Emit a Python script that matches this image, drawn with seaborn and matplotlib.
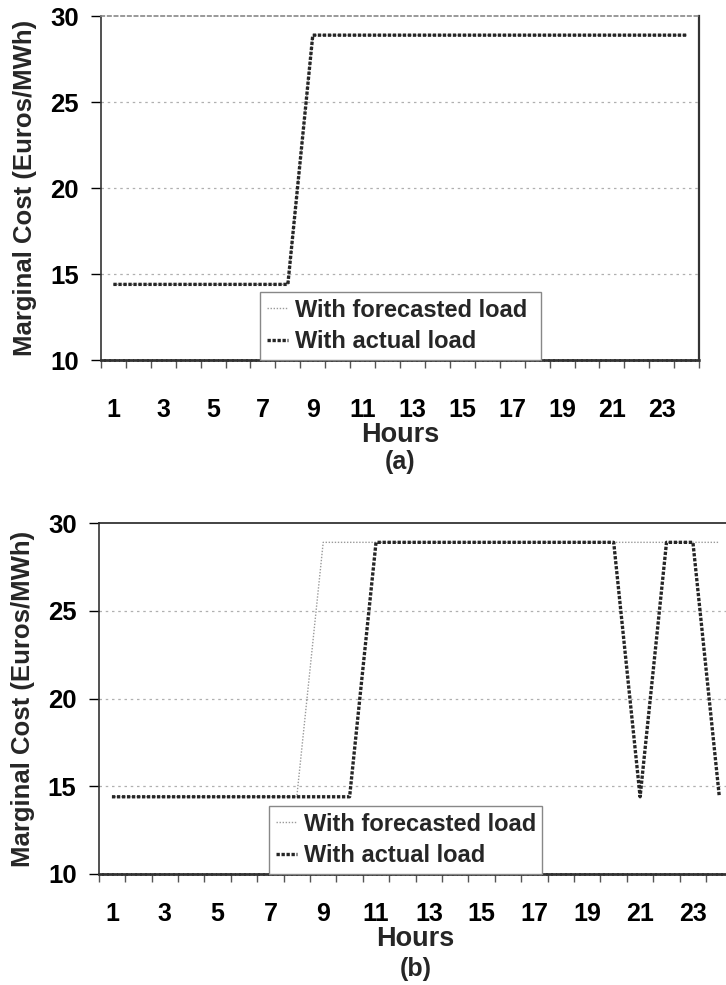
import matplotlib
matplotlib.use("Agg")
import matplotlib.pyplot as plt
import seaborn as sns
import pandas as pd

HOURS = [1, 2, 3, 4, 5, 6, 7, 8, 9, 10, 11, 12,
         13, 14, 15, 16, 17, 18, 19, 20, 21, 22, 23, 24]

# panel (a): both curves are the same
FORECAST_A = [14.4, 14.4, 14.4, 14.4, 14.4, 14.4, 14.4, 14.4, 28.9, 28.9, 28.9, 28.9,
              28.9, 28.9, 28.9, 28.9, 28.9, 28.9, 28.9, 28.9, 28.9, 28.9, 28.9, 28.9]
ACTUAL_A = [14.4, 14.4, 14.4, 14.4, 14.4, 14.4, 14.4, 14.4, 28.9, 28.9, 28.9, 28.9,
            28.9, 28.9, 28.9, 28.9, 28.9, 28.9, 28.9, 28.9, 28.9, 28.9, 28.9, 28.9]

# panel (b)
FORECAST_B = [14.4, 14.4, 14.4, 14.4, 14.4, 14.4, 14.4, 14.4, 28.9, 28.9, 28.9, 28.9,
              28.9, 28.9, 28.9, 28.9, 28.9, 28.9, 28.9, 28.9, 28.9, 28.9, 28.9, 28.9]
ACTUAL_B = [14.4, 14.4, 14.4, 14.4, 14.4, 14.4, 14.4, 14.4, 14.4, 14.4, 28.9, 28.9,
            28.9, 28.9, 28.9, 28.9, 28.9, 28.9, 28.9, 28.9, 14.4, 28.9, 28.9, 14.4]

Y_TICKS = [10, 15, 20, 25, 30]
X_TICKS = [1, 3, 5, 7, 9, 11, 13, 15, 17, 19, 21, 23]
LABELS = ["With forecasted load", "With actual load"]

sns.set_theme(style="white")
plt.rcParams["font.family"] = ["Liberation Sans", "DejaVu Sans"]
plt.rcParams["font.weight"] = "bold"

fig = plt.figure(figsize=(7.26, 9.85), dpi=100)
ax_a = fig.add_axes([0.139, 0.6345, 0.824, 0.349])
ax_b = fig.add_axes([0.136, 0.1127, 0.873, 0.3563])


def draw_panel(ax, forecast, actual, tag, legend_box, top_style, xpad, xlabelpad):
    df = pd.DataFrame({"hour": HOURS, "forecast": forecast, "actual": actual})
    sns.lineplot(data=df, x="hour", y="forecast", ax=ax, color="#9a9a9a",
                 linewidth=1.0, linestyle=(0, (1, 1.2)), label=LABELS[0])
    sns.lineplot(data=df, x="hour", y="actual", ax=ax, color="#262626",
                 linewidth=2.4, linestyle=(0, (1, 0.5)), label=LABELS[1])

    ax.set_xlim(0.5, 24.5)
    ax.set_ylim(10, 30)
    ax.set_yticks(Y_TICKS)
    ax.set_yticklabels([str(v) for v in Y_TICKS], fontsize=18.5, fontweight="bold")
    ax.set_xticks(X_TICKS)
    ax.set_xticklabels([str(v) for v in X_TICKS], fontsize=18, fontweight="bold")
    ax.set_xticks([h - 0.5 for h in HOURS] + [24.5], minor=True)
    ax.tick_params(axis="x", which="major", length=0, pad=xpad, colors="black")
    ax.tick_params(axis="x", which="minor", length=6, width=1, color="#555555",
                   direction="out", bottom=True)
    ax.tick_params(axis="y", which="major", length=7, width=1, color="#888888",
                   direction="out", left=True, pad=9, colors="black")
    ax.tick_params(axis="y", colors="black")

    for y in [15, 20, 25]:
        ax.axhline(y, color="#b0b0b0", linewidth=0.9, linestyle=(0, (2, 3)), zorder=0)

    ax.spines["left"].set_color("#333333")
    ax.spines["left"].set_linewidth(1.2)
    ax.spines["bottom"].set_color("#333333")
    ax.spines["bottom"].set_linewidth(2.0)
    ax.spines["bottom"].set_linestyle((0, (1, 0.7)))
    if top_style == "dotted":
        ax.spines["top"].set_color("#888888")
        ax.spines["top"].set_linewidth(1.2)
        ax.spines["top"].set_linestyle((0, (2, 2)))
        ax.spines["right"].set_color("#333333")
        ax.spines["right"].set_linewidth(1.6)
    else:
        ax.spines["top"].set_color("#222222")
        ax.spines["top"].set_linewidth(1.2)
        ax.spines["right"].set_visible(False)

    ax.set_xlabel("Hours", fontsize=19.5, fontweight="bold", labelpad=xlabelpad)
    ax.set_ylabel("Marginal Cost (Euros/MWh)", fontsize=18.5, fontweight="bold",
                  labelpad=9)
    ax.text(0.5, tag[1], tag[0], transform=ax.transAxes, ha="center", va="center",
            fontsize=18, fontweight="bold")

    leg = ax.legend(loc="lower left", bbox_to_anchor=legend_box, mode="expand",
                    borderaxespad=0, frameon=True, fancybox=False, framealpha=1,
                    edgecolor="#888888", handlelength=0.9, handletextpad=0.3,
                    borderpad=0.3, labelspacing=0.35,
                    prop={"size": 17, "weight": "bold"})
    leg.get_frame().set_linewidth(1.0)


draw_panel(ax_a, FORECAST_A, ACTUAL_A, ("(a)", -0.297), (0.266, 0.0, 0.47, 0.2),
           "dotted", 27, 0)
draw_panel(ax_b, FORECAST_B, ACTUAL_B, ("(b)", -0.27), (0.268, 0.0, 0.432, 0.214),
           "solid", 20, 0)

fig.savefig("out.png", dpi=100)
